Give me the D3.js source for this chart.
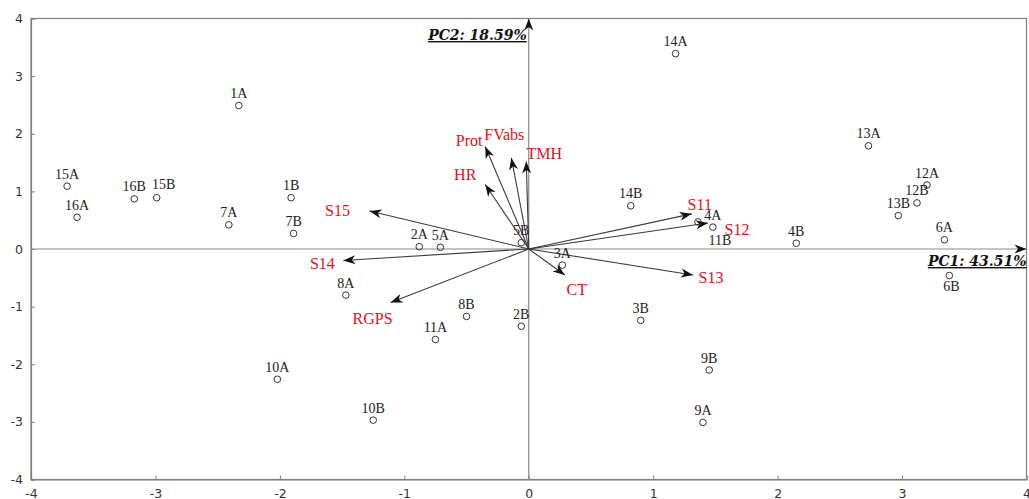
<!DOCTYPE html>
<html>
<head>
<meta charset="utf-8">
<script src="https://cdn.jsdelivr.net/npm/d3@7"></script>
<style>
  html, body { margin: 0; padding: 0; background: #fff; }
  svg { display: block; }
</style>
</head>
<body>
<svg id="chart" width="1029" height="499"></svg>
<script>
// ---------------- DATA ----------------
const tickValues = [-4, -3, -2, -1, 0, 1, 2, 3, 4];
const axisTitles = ["PC1: 43.51%", "PC2: 18.59%"];

// observations (scores)
const obsNames = ["15A","16A","16B","15B","1A","7A","1B","7B","2A","5A","5B","14A","14B","13A","12A","12B","13B","6A","4A","11B","4B","6B","3A","8A","10A","8B","11A","2B","3B","10B","9B","9A"];
const obsPC1  = [-3.71,-3.63,-3.17,-2.99,-2.33,-2.41,-1.91,-1.89,-0.88,-0.71,-0.06,1.18,0.82,2.73,3.20,3.12,2.97,3.34,1.48,1.36,2.15,3.38,0.27,-1.47,-2.02,-0.50,-0.75,-0.06,0.90,-1.25,1.45,1.40];
const obsPC2  = [1.09,0.55,0.87,0.89,2.49,0.42,0.89,0.27,0.04,0.03,0.11,3.39,0.75,1.79,1.11,0.80,0.58,0.16,0.38,0.47,0.10,-0.46,-0.28,-0.80,-2.26,-1.17,-1.57,-1.34,-1.24,-2.97,-2.10,-3.01];

// variables (loadings, scaled)
const varNames = ["S15","S14","RGPS","HR","Prot","FVabs","TMH","S11","S12","S13","CT"];
const varPC1   = [-1.28,-1.49,-1.11,-0.35,-0.35,-0.14,-0.02,1.31,1.44,1.32,0.29];
const varPC2   = [0.66,-0.20,-0.93,1.12,1.78,1.58,1.52,0.61,0.45,-0.45,-0.45];

// ---------------- LAYOUT (label placement, not data) ----------------
const obsLabelPlace = { "6B": [2, 15], "15B": [7, -9], "11B": [22, 23], "12B": [0, -8] };
const varLabelPlace = {
  "S15": [-32, 5], "S14": [-21, 8], "RGPS": [-18, 21], "HR": [-20, -4],
  "Prot": [-16, 0], "FVabs": [-7, -18], "TMH": [18, -2], "S11": [8, -4],
  "S12": [29, 12], "S13": [18, 8], "CT": [12, 20]
};

// ---------------- CHART ----------------
const svg = d3.select("#chart");
const x = d3.scaleLinear().domain([-4, 4]).range([31, 1026.5]);
const y = d3.scaleLinear().domain([-4, 4]).range([479.5, 18.5]);

const defs = svg.append("defs");
defs.append("marker")
  .attr("id", "ah").attr("viewBox", "-13 -6 14 12")
  .attr("refX", 0).attr("refY", 0)
  .attr("markerWidth", 14).attr("markerHeight", 12)
  .attr("markerUnits", "userSpaceOnUse")
  .attr("orient", "auto")
  .append("path").attr("d", "M0,0 L-12,-4.5 L-8.5,0 L-12,4.5 Z").attr("fill", "#111");

// frame
svg.append("rect")
  .attr("x", x(-4)).attr("y", y(4))
  .attr("width", x(4) - x(-4)).attr("height", y(-4) - y(4))
  .attr("fill", "none").attr("stroke", "#808080").attr("stroke-width", 1.2);

// axes
const fmt = d => String(d);
const gx = svg.append("g").attr("transform", `translate(0,${y(-4)})`)
  .call(d3.axisBottom(x).tickValues(tickValues).tickSize(-4).tickPadding(8).tickFormat(fmt));
const gy = svg.append("g").attr("transform", `translate(${x(-4)},0)`)
  .call(d3.axisLeft(y).tickValues(tickValues).tickSize(-4).tickPadding(8).tickFormat(fmt));
[gx, gy].forEach(g => {
  g.select(".domain").attr("stroke", "#808080").attr("stroke-width", 1.2);
  g.selectAll(".tick line").attr("stroke", "#808080");
  g.selectAll(".tick text").attr("fill", "#333")
    .style("font-family", "'DejaVu Sans', Verdana, sans-serif").style("font-size", "12.5px");
});
gx.selectAll(".tick text").attr("dy", "0.8em");

// zero lines with arrows
svg.append("line")
  .attr("x1", x(-4)).attr("x2", x(4)).attr("y1", y(0)).attr("y2", y(0))
  .attr("stroke", "#8a8a8a").attr("stroke-width", 1.2).attr("marker-end", "url(#ah)");
svg.append("line")
  .attr("x1", x(0)).attr("x2", x(0)).attr("y1", y(-4)).attr("y2", y(4))
  .attr("stroke", "#8a8a8a").attr("stroke-width", 1.2).attr("marker-end", "url(#ah)");

// axis titles
const titleStyle = sel => sel
  .style("font-family", "'DejaVu Serif', 'Liberation Serif', serif")
  .style("font-size", "14px").style("font-weight", "bold").style("font-style", "italic")
  .style("text-decoration", "underline").attr("fill", "#111").attr("text-anchor", "end");
svg.append("text").attr("x", x(0) - 2).attr("y", 40).text(axisTitles[1]).call(titleStyle);
svg.append("text").attr("x", x(4)).attr("y", y(0) + 17).text(axisTitles[0]).call(titleStyle);

// variable arrows
const vars = varNames.map((n, i) => ({ n, a: varPC1[i], b: varPC2[i] }));
svg.append("g").selectAll("line").data(vars).join("line")
  .attr("x1", x(0)).attr("y1", y(0))
  .attr("x2", d => x(d.a)).attr("y2", d => y(d.b))
  .attr("stroke", "#3a3a3a").attr("stroke-width", 1.1)
  .attr("marker-end", "url(#ah)");

// observations
const obs = obsNames.map((n, i) => ({ n, a: obsPC1[i], b: obsPC2[i] }));
const og = svg.append("g");
og.selectAll("circle").data(obs).join("circle")
  .attr("cx", d => x(d.a)).attr("cy", d => y(d.b)).attr("r", 3.3)
  .attr("fill", "none").attr("stroke", "#333").attr("stroke-width", 1);
og.selectAll("text").data(obs).join("text")
  .attr("x", d => x(d.a) + (obsLabelPlace[d.n] ? obsLabelPlace[d.n][0] : 0))
  .attr("y", d => y(d.b) + (obsLabelPlace[d.n] ? obsLabelPlace[d.n][1] : -7.5))
  .attr("text-anchor", "middle").attr("fill", "#222")
  .style("font-family", "'Liberation Serif', 'Times New Roman', serif").style("font-size", "14px")
  .text(d => d.n);

// variable labels
svg.append("g").selectAll("text").data(vars).join("text")
  .attr("x", d => x(d.a) + varLabelPlace[d.n][0])
  .attr("y", d => y(d.b) + varLabelPlace[d.n][1])
  .attr("text-anchor", "middle").attr("fill", "#e3101a")
  .style("font-family", "'Liberation Serif', 'Times New Roman', serif").style("font-size", "16px")
  .text(d => d.n);
</script>
</body>
</html>
